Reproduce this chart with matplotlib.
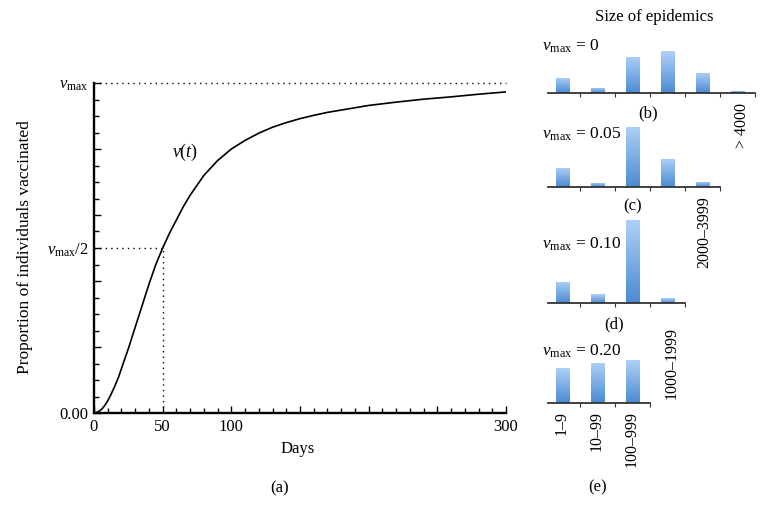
import numpy as np
import matplotlib
matplotlib.use("Agg")
from matplotlib import pyplot as plt
from matplotlib.colors import LinearSegmentedColormap
from matplotlib.ticker import MultipleLocator

plt.rcParams['font.family'] = ['Liberation Serif', 'DejaVu Serif']
plt.rcParams['mathtext.fontset'] = 'custom'
plt.rcParams['mathtext.rm'] = 'Liberation Serif'
plt.rcParams['mathtext.it'] = 'Liberation Serif:italic'

# vaccination curve v(t), as fraction of v_max
days = [0, 2, 4, 6, 8, 10, 12, 15, 18, 20, 25, 30, 35, 40, 45, 50, 55, 60,
        65, 70, 75, 80, 90, 100, 110, 120, 130, 140, 150, 160, 170, 180,
        190, 200, 220, 240, 260, 280, 300]
v_frac = [0, 0.002, 0.006, 0.013, 0.024, 0.037, 0.053, 0.08, 0.11, 0.135,
          0.195, 0.26, 0.325, 0.39, 0.45, 0.50, 0.545, 0.585, 0.625, 0.66,
          0.69, 0.72, 0.765, 0.80, 0.826, 0.848, 0.866, 0.88, 0.892, 0.902,
          0.911, 0.918, 0.925, 0.932, 0.942, 0.951, 0.958, 0.966, 0.973]

# epidemic size distributions
size_labels = ['1\u20139', '10\u201399', '100\u2013999', '1000\u20131999',
               '2000\u20133999', '> 4000']
vmax_labels = ['0', '0.05', '0.10', '0.20']
dist_b = [0.13, 0.045, 0.31, 0.355, 0.175, 0.02]
dist_c = [0.167, 0.036, 0.51, 0.243, 0.045]
dist_d = [0.178, 0.07, 0.70, 0.04]
dist_e = [0.29, 0.34, 0.36]
panels = [dist_b, dist_c, dist_d, dist_e]
panel_tags = ['(b)', '(c)', '(d)', '(e)']

W, H = 765, 505
fig = plt.figure(figsize=(W / 100, H / 100), dpi=100)

def fx(px):
    return px / W

def fy(py):
    return 1 - py / H

# ---- main panel (a)
ax = fig.add_axes([fx(94), fy(413), (506 - 94) / W, (413 - 83) / H])
ax.plot(days, v_frac, color='black', lw=1.2, solid_joinstyle='round')
ax.set_xlim(0, 300)
ax.set_ylim(0, 1)
ax.plot([0, 300], [1, 1], ls=(0, (1, 3)), color='black', lw=1, clip_on=False)
ax.plot([0, 50], [0.5, 0.5], ls=(0, (1, 3)), color='black', lw=1)
ax.plot([50, 50], [0, 0.5], ls=(0, (1, 3)), color='black', lw=1)
for s in ['top', 'right']:
    ax.spines[s].set_visible(False)
for s in ['left', 'bottom']:
    ax.spines[s].set_linewidth(1.7)
ax.set_xticks([0, 50, 100, 150, 200, 250, 300])
ax.set_xticklabels(['0', '50', '100', '', '', '', '300'])
ax.xaxis.set_minor_locator(MultipleLocator(10))
ax.set_yticks([0, 0.2, 0.4, 0.5, 0.6, 0.8, 1.0])
ax.set_yticklabels(['0.00', '', '', r'$v_{\max}/2$', '', '', r'$v_{\max}$'])
ax.yaxis.set_minor_locator(MultipleLocator(0.05))
ax.tick_params(which='major', direction='in', length=5, width=1, labelsize=12, pad=4)
ax.tick_params(which='minor', direction='in', length=3.5, width=1)
ax.text(66, 0.79, r'$v(t)$', fontsize=13, ha='center', va='center')
fig.text(fx(25), fy(247), 'Proportion of individuals vaccinated', rotation=90,
         ha='center', va='center', fontsize=12.5)
fig.text(fx(298), fy(449), 'Days', ha='center', va='center', fontsize=12)
fig.text(fx(280), fy(488), '(a)', ha='center', va='center', fontsize=12)

# ---- bar panels
cmap = LinearSegmentedColormap.from_list('blu', ['#4b8bd3', '#aed0f6'])
grad = np.linspace(0, 1, 64).reshape(-1, 1)
base_y = [93.3, 187.3, 302.7, 402.7]
px_per_unit = 118.0
bin_px = 35.0
ax_h = 95.0
for i, vals in enumerate(panels):
    n = len(vals)
    x0 = 562.5 - 0.42 * bin_px
    x1 = 562.5 + (n - 0.5) * bin_px
    bx = fig.add_axes([fx(x0), fy(base_y[i]), (x1 - x0) / W, ax_h / H])
    bx.patch.set_alpha(0)
    bars = bx.bar(range(n), vals, width=0.38, color='none', edgecolor='none')
    for b in bars:
        im = bx.imshow(grad, cmap=cmap, origin='lower', aspect='auto',
                       extent=[b.get_x(), b.get_x() + b.get_width(), 0, b.get_height()],
                       zorder=2)
        im.set_clip_path(b)
    bx.set_xlim(-0.42, n - 0.5)
    bx.set_ylim(0, ax_h / px_per_unit)
    for s in ['top', 'right', 'left']:
        bx.spines[s].set_visible(False)
    bx.spines['bottom'].set_linewidth(1.3)
    bx.spines['bottom'].set_color('#333333')
    bx.set_yticks([])
    bx.set_xticks(np.arange(n) + 0.5)
    bx.set_xticklabels([])
    bx.tick_params(axis='x', direction='out', length=3, width=0.8, color='#333333')

# panel annotations
fig.text(fx(654), fy(17), 'Size of epidemics', ha='center', va='center', fontsize=12)
label_base = [51, 139, 249, 356]
for i, lab in enumerate(vmax_labels):
    fig.text(fx(542), fy(label_base[i]), r'$v_{\max}$ = ' + lab,
             ha='left', va='baseline', fontsize=12.5)
tag_pos = [(648, 113), (633, 206), (614, 324), (598, 487)]
for tag, (px, py) in zip(panel_tags, tag_pos):
    fig.text(fx(px), fy(py), tag, ha='center', va='center', fontsize=12)

# rotated size categories
cat_pos = [(562, 411), (597, 411), (632, 411), (672, 327), (704, 196), (742, 103)]
for lab, (px, py) in zip(size_labels, cat_pos):
    fig.text(fx(px), fy(py), lab, rotation=90, ha='center', va='top', fontsize=11.5)

fig.savefig('out.png', dpi=100)
